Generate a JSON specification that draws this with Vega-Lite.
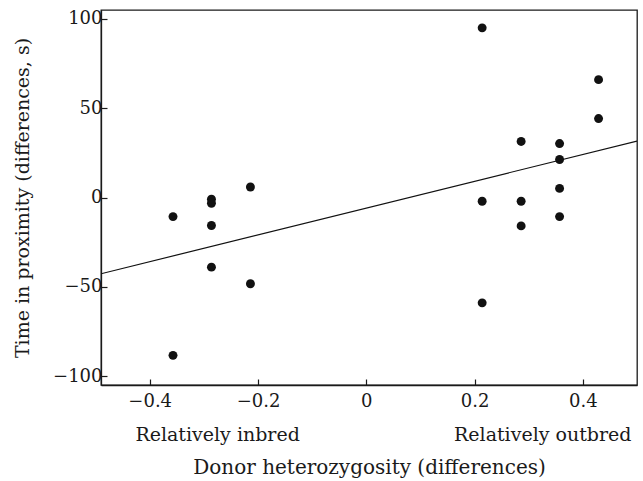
{
  "$schema": "https://vega.github.io/schema/vega-lite/v6.json",
  "autosize": "none",
  "width": 536,
  "height": 375,
  "padding": {"left": 101, "top": 10, "right": 6, "bottom": 96},
  "background": "white",
  "config": {
    "view": {"stroke": "#1a1a1a", "strokeWidth": 1.3},
    "font": "DejaVu Serif",
    "axis": {
      "labelFont": "DejaVu Serif",
      "titleFont": "DejaVu Serif",
      "labelFontSize": 18,
      "titleFontSize": 19,
      "labelColor": "#1a1a1a",
      "titleColor": "#1a1a1a",
      "titleFontWeight": "normal",
      "domainColor": "#1a1a1a",
      "tickColor": "#1a1a1a",
      "domainWidth": 1.3,
      "tickWidth": 1.2,
      "grid": false
    }
  },
  "datasets": {
    "points": [
      {"het": -0.357, "time": -10.7},
      {"het": -0.357, "time": -88.4},
      {"het": -0.286, "time": -1.0},
      {"het": -0.286, "time": -3.2},
      {"het": -0.286, "time": -15.7},
      {"het": -0.286, "time": -39.0},
      {"het": -0.214, "time": 5.9},
      {"het": -0.214, "time": -48.3},
      {"het": 0.214, "time": 95.0},
      {"het": 0.214, "time": -2.1},
      {"het": 0.214, "time": -59.0},
      {"het": 0.286, "time": 31.4},
      {"het": 0.286, "time": -2.1},
      {"het": 0.286, "time": -15.9},
      {"het": 0.357, "time": 30.2},
      {"het": 0.357, "time": 21.3},
      {"het": 0.357, "time": 5.1},
      {"het": 0.357, "time": -10.7},
      {"het": 0.429, "time": 66.0},
      {"het": 0.429, "time": 44.2}
    ],
    "fit": [
      {"het": -0.49, "time": -42.7},
      {"het": 0.5, "time": 31.6}
    ]
  },
  "layer": [
    {
      "data": {"name": "points"},
      "mark": {"type": "point", "filled": true, "color": "#111111", "opacity": 1, "size": 80},
      "encoding": {
        "x": {
          "field": "het", "type": "quantitative",
          "scale": {"domain": [-0.49, 0.5], "nice": false, "zero": false},
          "axis": {
            "orient": "bottom",
            "values": [-0.4, -0.2, 0, 0.2, 0.4],
            "format": ".1~f",
            "tickSize": -6,
            "labelPadding": 13,
            "labelFlush": false,
            "labelOverlap": false,
            "title": null
          }
        },
        "y": {
          "field": "time", "type": "quantitative",
          "scale": {"domain": [-105, 105], "nice": false, "zero": false},
          "axis": {
            "values": [-100, -50, 0, 50, 100],
            "tickSize": -6,
            "labelPadding": 5,
            "labelFlush": false,
            "labelOverlap": false,
            "title": "Time in proximity (differences, s)",
            "titlePadding": 20
          }
        }
      }
    },
    {
      "data": {"name": "fit"},
      "mark": {"type": "line", "color": "#111111", "strokeWidth": 1.2, "clip": true},
      "encoding": {
        "x": {
          "field": "het", "type": "quantitative",
          "axis": {
            "orient": "bottom",
            "values": [-0.2755, 0.325],
            "labelExpr": "datum.value < 0 ? 'Relatively inbred' : 'Relatively outbred'",
            "labelFontSize": 19,
            "domain": false,
            "ticks": false,
            "labelPadding": 40,
            "labelFlush": false,
            "labelOverlap": false,
            "title": "Donor heterozygosity (differences)",
            "titleFontSize": 20,
            "titlePadding": 13
          }
        },
        "y": {"field": "time", "type": "quantitative"}
      }
    }
  ],
  "resolve": {"axis": {"x": "independent"}}
}
